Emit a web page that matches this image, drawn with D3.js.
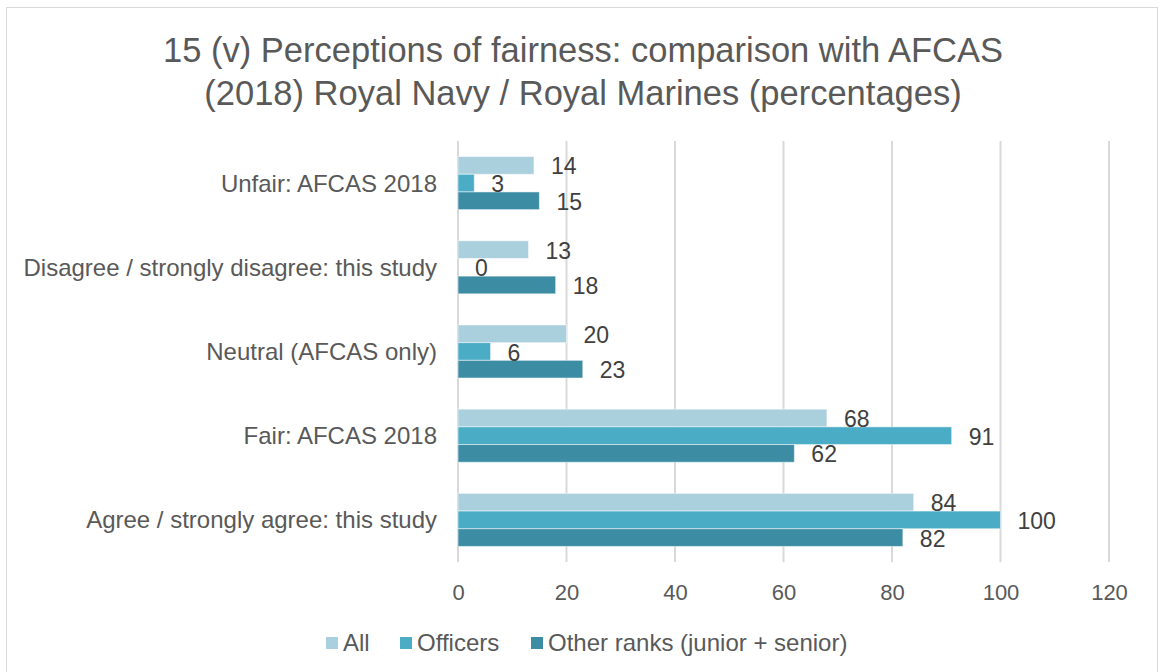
<!DOCTYPE html>
<html>
<head>
<meta charset="utf-8">
<script src="https://cdn.jsdelivr.net/npm/d3@7"></script>
<style>
  body { margin: 0; background: #fff; }
  svg { font-family: 'Liberation Sans', Arial, sans-serif; }
</style>
</head>
<body>
<div id="chart"></div>
<script>
const categories = [
  'Unfair: AFCAS 2018',
  'Disagree / strongly disagree: this study',
  'Neutral (AFCAS only)',
  'Fair: AFCAS 2018',
  'Agree / strongly agree: this study'
]
const seriesNames = ['All', 'Officers', 'Other ranks (junior + senior)']
const allValues = [14, 13, 20, 68, 84]
const officerValues = [3, 0, 6, 91, 100]
const otherValues = [15, 18, 23, 62, 82]
const xTicks = [0, 20, 40, 60, 80, 100, 120]

const seriesValues = [allValues, officerValues, otherValues]
const colors = ['#aacfdd', '#4bacc6', '#3c8ca3']

const width = 1160
const height = 672
const margin = { top: 141, right: 51, bottom: 110, left: 458 }

const svg = d3.select('#chart')
  .append('svg')
  .attr('width', width)
  .attr('height', height)

// outer chart border
svg.append('rect')
  .attr('x', 6.5)
  .attr('y', 7.5)
  .attr('width', 1151)
  .attr('height', 680)
  .attr('fill', '#fff')
  .attr('stroke', '#d9d9d9')
  .attr('stroke-width', 1)

// title
svg.append('text')
  .attr('x', 583)
  .attr('y', 62)
  .attr('text-anchor', 'middle')
  .attr('font-size', 34.5)
  .attr('fill', '#595959')
  .selectAll('tspan')
  .data(['15 (v) Perceptions of fairness: comparison with AFCAS', '(2018) Royal Navy / Royal Marines (percentages)'])
  .enter()
  .append('tspan')
  .attr('x', 583)
  .attr('dy', (d, i) => i === 0 ? 0 : 43)
  .text(d => d)

const x = d3.scaleLinear()
  .domain([0, 120])
  .range([margin.left, width - margin.right])

const y0 = d3.scaleBand()
  .domain(categories)
  .range([margin.top, height - margin.bottom])
  .paddingInner(0.37)
  .paddingOuter(0.185)

const y1 = d3.scaleBand()
  .domain(seriesNames)
  .range([0, y0.bandwidth()])

// gridlines
svg.append('g')
  .selectAll('line')
  .data(xTicks)
  .enter()
  .append('line')
  .attr('x1', d => x(d))
  .attr('x2', d => x(d))
  .attr('y1', margin.top)
  .attr('y2', height - margin.bottom)
  .attr('stroke', '#d9d9d9')
  .attr('stroke-width', 2)

// x axis labels
const xAxis = d3.axisBottom(x).tickValues(xTicks).tickSize(0).tickPadding(22)
const gx = svg.append('g')
  .attr('transform', 'translate(0,' + (height - margin.bottom) + ')')
  .call(xAxis)
gx.select('.domain').remove()
gx.selectAll('text')
  .attr('font-size', 22)
  .attr('font-family', "'Liberation Sans', Arial, sans-serif")
  .attr('fill', '#595959')

// category labels
svg.append('g')
  .selectAll('text')
  .data(categories)
  .enter()
  .append('text')
  .attr('x', margin.left - 21)
  .attr('y', d => y0(d) + y0.bandwidth() / 2)
  .attr('dy', '0.35em')
  .attr('text-anchor', 'end')
  .attr('font-size', 24)
  .attr('fill', '#595959')
  .text(d => d)

// bars
const rows = []
categories.forEach((c, i) => {
  seriesNames.forEach((s, j) => {
    rows.push({ category: c, series: s, value: seriesValues[j][i], color: colors[j] })
  })
})

svg.append('g')
  .selectAll('rect')
  .data(rows)
  .enter()
  .append('rect')
  .attr('x', x(0))
  .attr('y', d => y0(d.category) + y1(d.series))
  .attr('width', d => x(d.value) - x(0))
  .attr('height', y1.bandwidth())
  .attr('fill', d => d.color)
  .attr('stroke', d => d.value > 0 ? 'rgba(255,255,255,0.5)' : 'none')
  .attr('stroke-width', 1)

// value labels
svg.append('g')
  .selectAll('text')
  .data(rows)
  .enter()
  .append('text')
  .attr('x', d => x(d.value) + 17)
  .attr('y', d => y0(d.category) + y1(d.series) + y1.bandwidth() / 2 + 1)
  .attr('dy', '0.35em')
  .attr('font-size', 23)
  .attr('fill', '#404040')
  .text(d => d.value)

// legend
const legendX = [326, 400, 531]
const legend = svg.append('g')
  .selectAll('g')
  .data(seriesNames)
  .enter()
  .append('g')
  .attr('transform', (d, i) => 'translate(' + legendX[i] + ',643)')

legend.append('rect')
  .attr('x', 0)
  .attr('y', -6)
  .attr('width', 12)
  .attr('height', 12)
  .attr('fill', (d, i) => colors[i])

legend.append('text')
  .attr('x', 17)
  .attr('y', 0)
  .attr('dy', '0.35em')
  .attr('font-size', 24)
  .attr('fill', '#595959')
  .text(d => d)
</script>
</body>
</html>
